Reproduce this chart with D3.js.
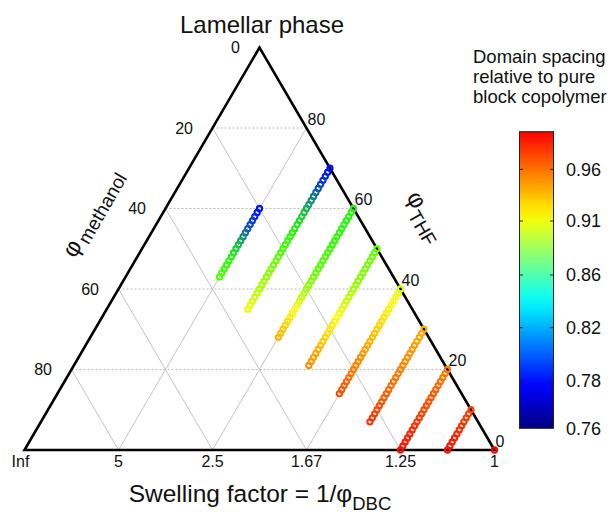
<!DOCTYPE html>
<html><head><meta charset="utf-8">
<script src="https://cdn.jsdelivr.net/npm/d3@7"></script>
<style>
body{margin:0;background:#fff}
svg{display:block}
text{font-family:"Liberation Sans",Arial,Helvetica,sans-serif;fill:#111}
</style>
</head><body>
<svg id="chart" width="610" height="514"></svg>
<script>
// ---- tick labels ----
const bottomTickLabels = ["Inf", "5", "2.5", "1.67", "1.25", "1"];
const bottomTickDBC = [0, 0.2, 0.4, 0.6, 0.8, 1];
const leftTickLabels = ["0", "20", "40", "60", "80"];
const leftTickTHF = [1, 0.8, 0.6, 0.4, 0.2];
const rightTickLabels = ["80", "60", "40", "20", "0"];
const rightTickTHF = [0.8, 0.6, 0.4, 0.2, 0];
const gridLevels = [0.2, 0.4, 0.6, 0.8];

// ---- series: constant block-copolymer fraction, THF from start to end (steps of 0.01) ----
const seriesDBC = [0.2, 0.3, 0.4, 0.5, 0.6, 0.7, 0.8, 0.9, 1.0];
const seriesThfStart = [0.60, 0.70, 0.60, 0.50, 0.40, 0.30, 0.20, 0.10, 0.00];
const seriesThfEnd = [0.43, 0.35, 0.28, 0.21, 0.14, 0.07, 0.00, 0.00, 0.00];

// domain spacing relative to pure block copolymer, one value per marker
const spacingDBC20 = [0.785,0.787,0.792,0.798,0.805,0.813,0.821,0.830,0.839,0.848,0.857,0.865,0.871,0.875,0.877,0.879,0.880,0.882];
const spacingDBC30 = [0.785,0.787,0.790,0.795,0.801,0.808,0.815,0.822,0.830,0.837,0.844,0.850,0.856,0.861,0.866,0.870,0.873,0.875,0.877,0.879,0.880,0.882,0.884,0.886,0.888,0.889,0.891,0.893,0.895,0.896,0.898,0.900,0.901,0.903,0.905,0.907];
const spacingDBC40 = [0.872,0.873,0.873,0.874,0.875,0.875,0.876,0.877,0.877,0.878,0.879,0.880,0.881,0.882,0.883,0.884,0.886,0.888,0.890,0.892,0.894,0.897,0.900,0.903,0.906,0.909,0.912,0.916,0.920,0.924,0.928,0.932,0.936];
const spacingDBC50 = [0.884,0.885,0.886,0.887,0.888,0.889,0.890,0.891,0.892,0.893,0.895,0.897,0.899,0.901,0.903,0.905,0.907,0.910,0.913,0.916,0.919,0.922,0.925,0.928,0.932,0.936,0.940,0.943,0.946,0.949];
const spacingDBC60 = [0.904,0.906,0.908,0.910,0.912,0.914,0.916,0.918,0.921,0.924,0.927,0.930,0.933,0.936,0.939,0.942,0.945,0.948,0.951,0.953,0.955,0.958,0.961,0.964,0.967,0.970,0.973];
const spacingDBC70 = [0.938,0.940,0.941,0.943,0.944,0.946,0.947,0.949,0.950,0.952,0.954,0.956,0.958,0.960,0.962,0.964,0.966,0.968,0.970,0.972,0.975,0.978,0.981,0.984];
const spacingDBC80 = [0.955,0.957,0.959,0.961,0.963,0.965,0.967,0.969,0.971,0.973,0.975,0.977,0.979,0.981,0.983,0.985,0.987,0.989,0.991,0.993,0.995];
const spacingDBC90 = [0.975,0.977,0.979,0.981,0.983,0.985,0.987,0.989,0.991,0.993,0.995];
const spacingDBC100 = [1.0];
const seriesValues = [spacingDBC20, spacingDBC30, spacingDBC40, spacingDBC50, spacingDBC60, spacingDBC70, spacingDBC80, spacingDBC90, spacingDBC100];

// colour bar
const colorbarTicks = [0.96, 0.91, 0.86, 0.82, 0.78, 0.76];
const colorbarTickLabels = ["0.96", "0.91", "0.86", "0.82", "0.78", "0.76"];
const colorbarTitle = ["Domain spacing", "relative to pure", "block copolymer"];

// ---- drawing ----
const svg = d3.select("#chart");

const uScale = d3.scaleLinear().domain([0, 1]).range([24.5, 494.5]);
const tScale = d3.scaleLinear().domain([0, 1]).range([450, 47.5]);
const px = (d, t) => [uScale(d + t / 2), tScale(t)];

const gGrid = svg.append("g");
// horizontal (constant THF) dashed
gridLevels.forEach(g => {
  const a = px(0, g), b = px(1 - g, g);
  gGrid.append("line").attr("x1", a[0]).attr("y1", a[1]).attr("x2", b[0]).attr("y2", b[1])
    .attr("stroke", "#b8b8b8").attr("stroke-width", 1).attr("stroke-dasharray", "2,2");
});
// constant DBC (parallel to left edge)
gridLevels.forEach(g => {
  const a = px(g, 0), b = px(g, 1 - g);
  gGrid.append("line").attr("x1", a[0]).attr("y1", a[1]).attr("x2", b[0]).attr("y2", b[1])
    .attr("stroke", "#c4c4c4").attr("stroke-width", 1);
});
// constant methanol (parallel to right edge)
gridLevels.forEach(g => {
  const a = px(1 - g, 0), b = px(0, 1 - g);
  gGrid.append("line").attr("x1", a[0]).attr("y1", a[1]).attr("x2", b[0]).attr("y2", b[1])
    .attr("stroke", "#c4c4c4").attr("stroke-width", 1);
});

// triangle
const tri = [px(0, 0), px(1, 0), px(0, 1)];
svg.append("path").attr("d", d3.line()(tri) + "Z")
  .attr("fill", "none").attr("stroke", "#000").attr("stroke-width", 2.6).attr("stroke-linejoin", "miter");

// marker colour scale
const markerColor = d3.scaleLinear()
  .domain([0.785, 0.875, 0.91, 0.955, 1.0])
  .range(["#0010ff", "#22ff00", "#ffff00", "#ff8000", "#ff0000"])
  .clamp(true);

const points = [];
seriesValues.forEach((vals, s) => {
  const n = vals.length;
  vals.forEach((v, i) => {
    const t = n > 1 ? seriesThfStart[s] - (seriesThfStart[s] - seriesThfEnd[s]) * i / (n - 1) : seriesThfStart[s];
    points.push({ d: seriesDBC[s], t: t, v: v });
  });
});
svg.append("g").selectAll("circle").data(points).join("circle")
  .attr("cx", p => px(p.d, p.t)[0])
  .attr("cy", p => px(p.d, p.t)[1])
  .attr("r", 2.6)
  .attr("fill", "none")
  .attr("stroke", p => markerColor(p.v))
  .attr("stroke-width", 2.1);

// tick labels
const gLab = svg.append("g").attr("font-size", 16);
leftTickTHF.forEach((t, i) => {
  const p = px(0, t);
  gLab.append("text").attr("x", p[0] - 19.5).attr("y", p[1]).attr("dy", "0.35em")
    .attr("text-anchor", "end").text(leftTickLabels[i]);
});
rightTickTHF.forEach((t, i) => {
  const p = px(1 - t, t);
  gLab.append("text").attr("x", p[0] + 1).attr("y", p[1] - 9).attr("dy", "0.35em")
    .attr("text-anchor", "start").text(rightTickLabels[i]);
});
bottomTickDBC.forEach((d, i) => {
  const p = px(d, 0);
  gLab.append("text").attr("x", p[0] - (i === 0 ? 4 : 0)).attr("y", p[1] + 11).attr("dy", "0.35em")
    .attr("text-anchor", "middle").text(bottomTickLabels[i]);
});

// titles
svg.append("text").attr("x", 262).attr("y", 33).attr("text-anchor", "middle")
  .attr("font-size", 24).text("Lamellar phase");

const bt = svg.append("text").attr("x", 260).attr("y", 502).attr("text-anchor", "middle").attr("font-size", 24.5);
bt.append("tspan").text("Swelling factor = 1/φ");
bt.append("tspan").attr("font-size", 18.5).attr("dy", 8).text("DBC");

const lt = svg.append("text").attr("transform", "translate(75,259) rotate(-60)").attr("font-size", 24);
lt.append("tspan").text("φ");
lt.append("tspan").attr("font-size", 19).attr("dx", 3).attr("dy", 5).text("methanol");

const rt = svg.append("text").attr("transform", "translate(406,197) rotate(60)").attr("font-size", 24);
rt.append("tspan").text("φ");
rt.append("tspan").attr("font-size", 19).attr("dx", 1).attr("dy", 8).text("THF");

// colour bar
const jet = d3.scaleLinear()
  .domain([0, 0.125, 0.375, 0.625, 0.875, 1])
  .range(["#000080", "#0000ff", "#00ffff", "#ffff00", "#ff0000", "#800000"]);
const cbY = d3.scaleLinear()
  .domain([0.76, 0.78, 0.82, 0.86, 0.91, 0.96, 1.0])
  .range([428.3, 380.7, 327.7, 275, 221, 169.3, 131.7]);
const cbX = 519.5, cbW = 34;
const defs = svg.append("defs");
const grad = defs.append("linearGradient").attr("id", "cbgrad")
  .attr("x1", 0).attr("y1", 1).attr("x2", 0).attr("y2", 0);
d3.range(0, 1.0001, 0.05).forEach(f => {
  grad.append("stop").attr("offset", f).attr("stop-color", jet(0.875 * f));
});
const yTop = cbY(1.0), yBot = cbY(0.76);
svg.append("rect").attr("x", cbX).attr("y", yTop).attr("width", cbW).attr("height", yBot - yTop)
  .attr("fill", "url(#cbgrad)").attr("stroke", "#222").attr("stroke-width", 1);
colorbarTicks.forEach((v, i) => {
  const y = cbY(v);
  if (i < colorbarTicks.length - 1) {
    svg.append("line").attr("x1", cbX).attr("x2", cbX + 3.5).attr("y1", y).attr("y2", y).attr("stroke", "#222");
    svg.append("line").attr("x1", cbX + cbW - 3.5).attr("x2", cbX + cbW).attr("y1", y).attr("y2", y).attr("stroke", "#222");
  }
  svg.append("text").attr("x", 566).attr("y", y).attr("dy", "0.35em").attr("font-size", 18).text(colorbarTickLabels[i]);
});
colorbarTitle.forEach((s, i) => {
  svg.append("text").attr("x", 473).attr("y", 63 + i * 20).attr("font-size", 18.5).text(s);
});
</script>
</body></html>
